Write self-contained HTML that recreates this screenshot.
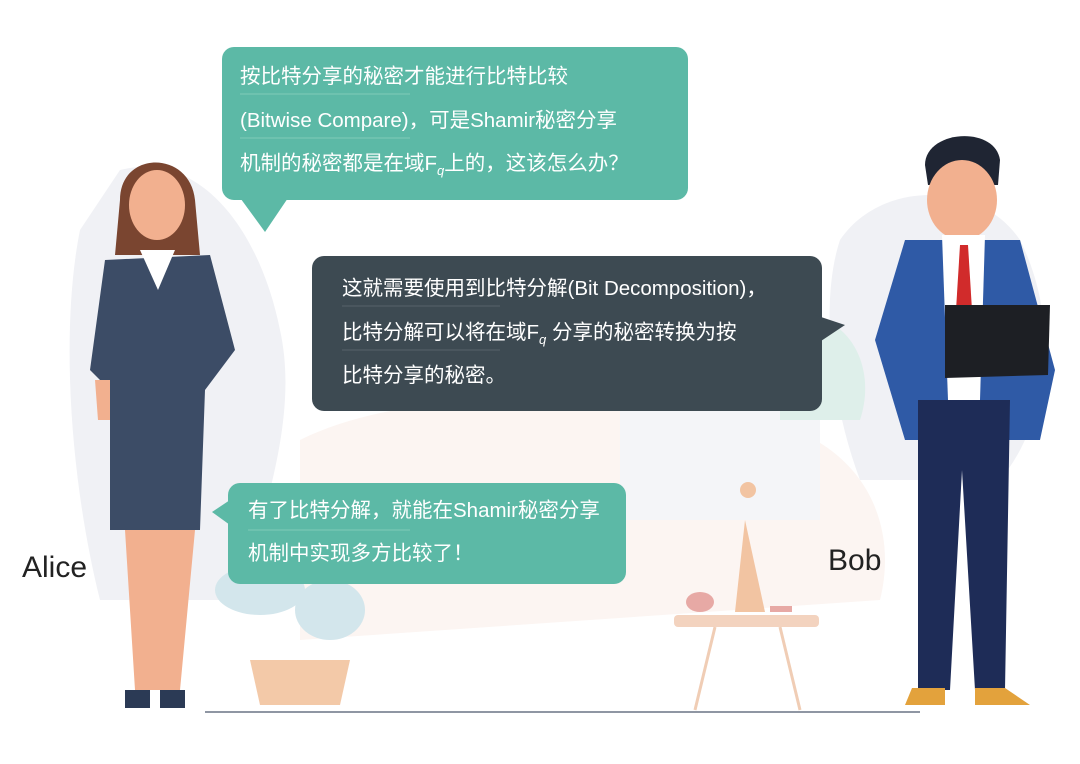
<!DOCTYPE html>
<html><head><meta charset="utf-8"><style>
html,body{margin:0;padding:0;background:#fff;}
svg{display:block;}
text{font-family:"Liberation Sans","Noto Sans CJK SC",sans-serif;}
</style></head><body>
<svg width="1080" height="764" viewBox="0 0 1080 764">
<g>
<path d="M120 170 C200 150 260 230 280 330 C300 420 260 520 240 600 L100 600 C70 480 60 330 80 230 Z" fill="#f0f1f5"/>
<path d="M840 240 C880 180 980 180 1020 240 C1060 320 1050 420 1000 480 L860 480 C830 400 820 300 840 240 Z" fill="#f0f1f5"/>
<path d="M300 440 C420 380 620 400 760 420 C860 440 900 520 880 600 L300 640 Z" fill="#fcf5f2"/>
<rect x="620" y="410" width="200" height="110" fill="#f4f5f8"/>
<path d="M780 320 C840 300 880 360 860 420 L780 420 Z" fill="#deefea"/>
</g>
<g>
<ellipse cx="260" cy="590" rx="45" ry="25" fill="#d3e6ec"/>
<ellipse cx="330" cy="610" rx="35" ry="30" fill="#d3e6ec"/>
<ellipse cx="370" cy="560" rx="30" ry="22" fill="#dbeaf0"/>
<path d="M250 660 L350 660 L340 705 L260 705 Z" fill="#f3c9a8"/>
</g>
<g>
<rect x="674" y="615" width="145" height="12" rx="4" fill="#f3d3bf"/>
<path d="M715 627 L695 710 M780 627 L800 710" stroke="#f0cdb5" stroke-width="3"/>
<path d="M745 520 L735 612 L765 612 Z" fill="#f2c4a2"/>
<circle cx="748" cy="490" r="8" fill="#f2c4a2"/>
<ellipse cx="700" cy="602" rx="14" ry="10" fill="#e7a9a5"/>
<rect x="770" y="606" width="22" height="6" fill="#e7a9a5"/>
</g>
<line x1="205" y1="712" x2="920" y2="712" stroke="#8f96a3" stroke-width="2"/>
<g>
<path d="M120 200 C120 150 190 150 195 200 L200 255 L115 255 Z" fill="#7a4530"/>
<ellipse cx="157" cy="205" rx="28" ry="35" fill="#f2b08f"/>
<path d="M105 260 L210 255 L235 350 L205 390 L200 530 L110 530 L110 390 L90 370 Z" fill="#3c4c66"/>
<path d="M140 250 L175 250 L158 290 Z" fill="#fff"/>
<path d="M125 530 L195 530 L180 690 L135 690 Z" fill="#f2b08f"/>
<path d="M125 690 L150 690 L150 708 L125 708 Z M160 690 L185 690 L185 708 L160 708 Z" fill="#2b3a55"/>
<path d="M95 380 L110 380 L110 420 L98 420 Z" fill="#f2b08f"/>
</g>
<g>
<path d="M925 165 C925 130 995 125 1000 160 L998 185 L928 185 Z" fill="#1f2533"/>
<ellipse cx="962" cy="200" rx="35" ry="40" fill="#f2b08f"/>
<path d="M905 240 L1020 240 L1055 370 L1040 440 L1010 440 L905 440 L875 340 Z" fill="#2f5aa6"/>
<path d="M942 235 L985 235 L980 400 L948 400 Z" fill="#fff"/>
<path d="M960 245 L968 245 L972 310 L964 320 L956 310 Z" fill="#d12b2b"/>
<path d="M918 400 L1010 400 L1005 690 L975 690 L962 470 L950 690 L918 690 Z" fill="#1e2c57"/>
<path d="M912 688 L945 688 L945 705 L905 705 Z M975 688 L1005 688 L1030 705 L975 705 Z" fill="#e3a23c"/>
<path d="M945 305 L1050 305 L1048 375 L945 378 Z" fill="#1d1f24"/>
</g>
<g>
<rect x="222" y="47" width="466" height="153" rx="12" fill="#5cb9a6"/>
<path d="M238 195 L290 195 L265 232 Z" fill="#5cb9a6"/>
<line x1="240" y1="94" x2="410" y2="94" stroke="#7fcab8" stroke-width="1"/>
<line x1="240" y1="138" x2="410" y2="138" stroke="#7fcab8" stroke-width="1"/>
<g fill="#fff" font-size="20.5">
<text x="240" y="83">按比特分享的秘密才能进行比特比较</text>
<text x="240" y="127">(Bitwise Compare)，可是Shamir秘密分享</text>
<text x="240" y="170">机制的秘密都是在域F<tspan font-size="13" dy="5" font-style="italic">q</tspan><tspan dy="-5">上的，这该怎么办？</tspan></text>
</g>
</g>
<g>
<rect x="312" y="256" width="510" height="155" rx="12" fill="#3d4a52"/>
<path d="M815 315 L845 325 L815 345 Z" fill="#3d4a52"/>
<line x1="342" y1="306" x2="500" y2="306" stroke="#56636b" stroke-width="1"/>
<line x1="342" y1="350" x2="500" y2="350" stroke="#56636b" stroke-width="1"/>
<g fill="#fff" font-size="20.5">
<text x="342" y="295">这就需要使用到比特分解(Bit Decomposition)，</text>
<text x="342" y="339">比特分解可以将在域F<tspan font-size="13" dy="5" font-style="italic">q</tspan><tspan dy="-5"> 分享的秘密转换为按</tspan></text>
<text x="342" y="382">比特分享的秘密。</text>
</g>
</g>
<g>
<rect x="228" y="483" width="398" height="101" rx="12" fill="#5cb9a6"/>
<path d="M230 500 L212 512 L230 525 Z" fill="#5cb9a6"/>
<line x1="248" y1="530" x2="410" y2="530" stroke="#7fcab8" stroke-width="1"/>
<g fill="#fff" font-size="20.5">
<text x="248" y="517">有了比特分解，就能在Shamir秘密分享</text>
<text x="248" y="560">机制中实现多方比较了！</text>
</g>
</g>
<text x="22" y="577" font-size="30" fill="#222">Alice</text>
<text x="828" y="570" font-size="30" fill="#222">Bob</text>
</svg>
</body></html>
